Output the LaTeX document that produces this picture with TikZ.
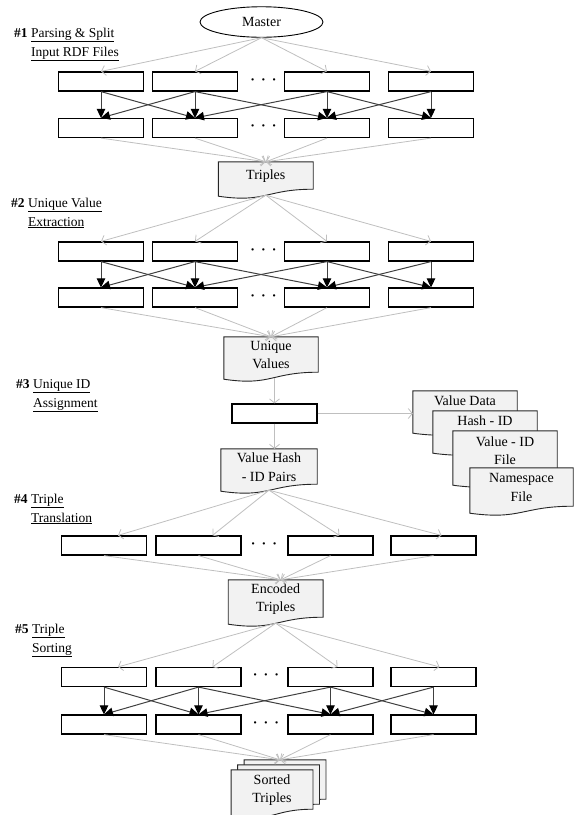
\documentclass[tikz,border=0pt]{standalone}
\usepackage{fontspec}
\setmainfont{Liberation Serif}
\usetikzlibrary{arrows.meta,shapes.geometric,backgrounds,calc}

% document outline under a named node, optional extra drop below it
\newcommand{\docpath}[2][0]{%
  \filldraw[docline] (#2.north west) -- (#2.north east)
    -- ($(#2.south east)+(0,{#1-1})$)
    .. controls ($(#2.south)+(0,{#1-1})$) and ($(#2.south)+(0,{#1+13})$)
    .. ($(#2.south west)+(0,{#1+6})$) -- cycle;}

\begin{document}
\begin{tikzpicture}[x=1pt,y=-1pt,
    font=\fontsize{14}{18.5}\selectfont,
    >={Triangle[length=9pt,width=8.5pt,color=black]},
    box/.style={draw,line width=1.2pt,minimum width=85pt,minimum height=19pt,inner sep=0pt},
    doc/.style={align=center,inner sep=0pt,minimum width=#1},
    docline/.style={fill=black!5,draw=black!85,line width=0.9pt},
    feed/.style={draw=gray!50,line width=0.8pt,-{Straight Barb[length=4pt,width=10pt]}},
    shuffle/.style={draw=black!75,line width=1pt,->},
    dots/.style={inner sep=0pt,font=\fontsize{14}{18.5}\selectfont\bfseries},
    phase/.style={anchor=base west,inner sep=0pt,font=\fontsize{13.5}{19}\selectfont}]
    \useasboundingbox (0,0) rectangle (577,815);

    % phase labels
    \node[phase] (l1) at (14,37) {\begin{tabular}[t]{@{}l@{ }l@{}}\textbf{\#1} & \underline{Parsing \& Split}\\ & \underline{Input RDF Files}\end{tabular}};
    \node[phase] (l2) at (11,207) {\begin{tabular}[t]{@{}l@{ }l@{}}\textbf{\#2} & \underline{Unique Value}\\ & \underline{Extraction}\end{tabular}};
    \node[phase] (l3) at (16,388) {\begin{tabular}[t]{@{}l@{ }l@{}}\textbf{\#3} & \underline{Unique ID}\\ & \underline{Assignment}\end{tabular}};
    \node[phase] (l4) at (14,503) {\begin{tabular}[t]{@{}l@{ }l@{}}\textbf{\#4} & \underline{Triple}\\ & \underline{Translation}\end{tabular}};
    \node[phase] (l5) at (15,633) {\begin{tabular}[t]{@{}l@{ }l@{}}\textbf{\#5} & \underline{Triple}\\ & \underline{Sorting}\end{tabular}};

    % #1
    \node[draw,ellipse,line width=0.9pt,minimum width=123pt,minimum height=30.5pt,inner sep=0pt] (master) at (261.5,22) {Master};
    \node[box] (a1) at (101,81.5) {};
    \node[box] (a2) at (195,81.5) {};
    \node[box] (a3) at (327,81.5) {};
    \node[box] (a4) at (431,81.5) {};
    \node[dots] (ad) at (263.5,81.5) {·\hspace{6pt}·\hspace{6pt}·};
    \node[box] (b1) at (101,128) {};
    \node[box] (b2) at (195,128) {};
    \node[box] (b3) at (327,128) {};
    \node[box] (b4) at (431,128) {};
    \node[dots] (bd) at (263.5,128) {·\hspace{6pt}·\hspace{6pt}·};
    \node[doc=94.5pt,minimum height=28pt] (trip) at (265.8,176) {Triples};

    % #2
    \node[box] (c1) at (101,251.5) {};
    \node[box] (c2) at (195,251.5) {};
    \node[box] (c3) at (327,251.5) {};
    \node[box] (c4) at (431,251.5) {};
    \node[dots] (cd) at (263.5,251.5) {·\hspace{6pt}·\hspace{6pt}·};
    \node[box] (d1) at (101,297.5) {};
    \node[box] (d2) at (195,297.5) {};
    \node[box] (d3) at (327,297.5) {};
    \node[box] (d4) at (431,297.5) {};
    \node[dots] (dd) at (263.5,297.5) {·\hspace{6pt}·\hspace{6pt}·};
    \node[doc=94pt,minimum height=36pt] (uval) at (271,355) {Unique\\Values};

    % #3
    \node[box] (idbox) at (274.5,413.5) {};
    \node[doc=96pt,minimum height=36pt] (vhash) at (269,467) {Value Hash\\- ID Pairs};
    \node[doc=104pt,minimum height=20pt] (vdata) at (465,401) {Value Data};
    \node[doc=104pt,minimum height=20pt] (hashid) at (485,421) {Hash - ID};
    \node[doc=104pt,minimum height=39pt] (valid) at (505,450.5) {Value - ID\\File};
    \node[doc=103pt,minimum height=39pt] (nsfile) at (521.5,487.5) {Namespace\\File};

    % #4
    \node[box] (e1) at (104,545.5) {};
    \node[box] (e2) at (198.5,545.5) {};
    \node[box] (e3) at (330.5,545.5) {};
    \node[box] (e4) at (433.5,545.5) {};
    \node[dots] (ed) at (264,545.5) {·\hspace{6pt}·\hspace{6pt}·};
    \node[doc=94.5pt,minimum height=38pt] (enc) at (275.7,599) {Encoded\\Triples};

    % #5
    \node[box] (f1) at (104,677) {};
    \node[box] (f2) at (198.5,677) {};
    \node[box] (f3) at (330.5,677) {};
    \node[box] (f4) at (433.5,677) {};
    \node[dots] (fd) at (266,677) {·\hspace{6pt}·\hspace{6pt}·};
    \node[box] (g1) at (104,724.5) {};
    \node[box] (g2) at (198.5,724.5) {};
    \node[box] (g3) at (330.5,724.5) {};
    \node[box] (g4) at (433.5,724.5) {};
    \node[dots] (gd) at (266,724.5) {·\hspace{6pt}·\hspace{6pt}·};
    \node[doc=81.5pt,minimum height=40pt] (sortc) at (285,780) {};
    \node[doc=81.5pt,minimum height=40pt] (sortb) at (278.5,785) {};
    \node[doc=81.5pt,minimum height=40pt] (sort) at (272,790) {Sorted\\Triples};

    \begin{scope}[on background layer]
        \docpath{trip}
        \docpath{uval}
        \docpath{vhash}
        \docpath[16]{vdata}
        \docpath[16]{hashid}
        \docpath[9]{valid}
        \docpath{nsfile}
        \docpath{enc}
        \docpath{sortc}
        \docpath{sortb}
        \docpath{sort}
    \end{scope}

    % fan out / fan in
    \draw[feed] (master.south) -- (a1.north);
    \draw[feed] (master.south) -- (a2.north);
    \draw[feed] (master.south) -- (a3.north);
    \draw[feed] (master.south) -- (a4.north);
    \draw[feed] (b1.south) -- (trip.north);
    \draw[feed] (b2.south) -- (trip.north);
    \draw[feed] (b3.south) -- (trip.north);
    \draw[feed] (b4.south) -- (trip.north);
    \draw[feed] ([yshift=-5pt]trip.south) -- (c1.north);
    \draw[feed] ([yshift=-5pt]trip.south) -- (c2.north);
    \draw[feed] ([yshift=-5pt]trip.south) -- (c3.north);
    \draw[feed] ([yshift=-5pt]trip.south) -- (c4.north);
    \draw[feed] (d1.south) -- (uval.north);
    \draw[feed] (d2.south) -- (uval.north);
    \draw[feed] (d3.south) -- (uval.north);
    \draw[feed] (d4.south) -- (uval.north);
    \draw[feed] ([xshift=3.5pt,yshift=-5pt]uval.south) -- (idbox.north);
    \draw[feed] (idbox.south) -- (vhash.north -| idbox.south);
    \draw[feed] (idbox.east) -- (idbox.east -| vdata.west);
    \draw[feed] ([yshift=-5pt]vhash.south) -- ([xshift=14pt]e1.north);
    \draw[feed] ([yshift=-5pt]vhash.south) -- ([xshift=14pt]e2.north);
    \draw[feed] ([yshift=-5pt]vhash.south) -- ([xshift=9pt]e3.north);
    \draw[feed] ([yshift=-5pt]vhash.south) -- ([xshift=8pt]e4.north);
    \draw[feed] (e1.south) -- ([xshift=5pt]enc.north);
    \draw[feed] (e2.south) -- ([xshift=5pt]enc.north);
    \draw[feed] (e3.south) -- ([xshift=5pt]enc.north);
    \draw[feed] (e4.south) -- ([xshift=5pt]enc.north);
    \draw[feed] ([yshift=-5pt]enc.south) -- ([xshift=14pt]f1.north);
    \draw[feed] ([yshift=-5pt]enc.south) -- ([xshift=14pt]f2.north);
    \draw[feed] ([yshift=-5pt]enc.south) -- ([xshift=7pt]f3.north);
    \draw[feed] ([yshift=-5pt]enc.south) -- ([xshift=6pt]f4.north);
    \draw[feed] (g1.south) -- ([xshift=-5pt]sortc.north);
    \draw[feed] (g2.south) -- ([xshift=-5pt]sortc.north);
    \draw[feed] (g3.south) -- ([xshift=-5pt]sortc.north);
    \draw[feed] (g4.south) -- ([xshift=-5pt]sortc.north);

    % shuffle #1
    \draw[shuffle] (a1.south) -- (b1.north);
    \draw[shuffle] (a1.south) -- (b2.north);
    \draw[shuffle] (a2.south) -- (b1.north);
    \draw[shuffle] (a2.south) -- (b2.north);
    \draw[shuffle] (a2.south) -- (b3.north);
    \draw[shuffle] (a3.south) -- (b2.north);
    \draw[shuffle] (a3.south) -- (b3.north);
    \draw[shuffle] (a3.south) -- (b4.north);
    \draw[shuffle] (a4.south) -- (b3.north);
    \draw[shuffle] (a4.south) -- (b4.north);

    % shuffle #2
    \draw[shuffle] (c1.south) -- (d1.north);
    \draw[shuffle] (c1.south) -- (d2.north);
    \draw[shuffle] (c2.south) -- (d1.north);
    \draw[shuffle] (c2.south) -- (d2.north);
    \draw[shuffle] (c2.south) -- (d3.north);
    \draw[shuffle] (c3.south) -- (d2.north);
    \draw[shuffle] (c3.south) -- (d3.north);
    \draw[shuffle] (c3.south) -- (d4.north);
    \draw[shuffle] (c4.south) -- (d3.north);
    \draw[shuffle] (c4.south) -- (d4.north);

    % shuffle #5
    \draw[shuffle] (f1.south) -- (g1.north);
    \draw[shuffle] (f1.south) -- (g2.north);
    \draw[shuffle] (f2.south) -- (g1.north);
    \draw[shuffle] (f2.south) -- (g2.north);
    \draw[shuffle] (f2.south) -- (g3.north);
    \draw[shuffle] (f3.south) -- (g2.north);
    \draw[shuffle] (f3.south) -- (g3.north);
    \draw[shuffle] (f3.south) -- (g4.north);
    \draw[shuffle] (f4.south) -- (g3.north);
    \draw[shuffle] (f4.south) -- (g4.north);
\end{tikzpicture}
\end{document}
